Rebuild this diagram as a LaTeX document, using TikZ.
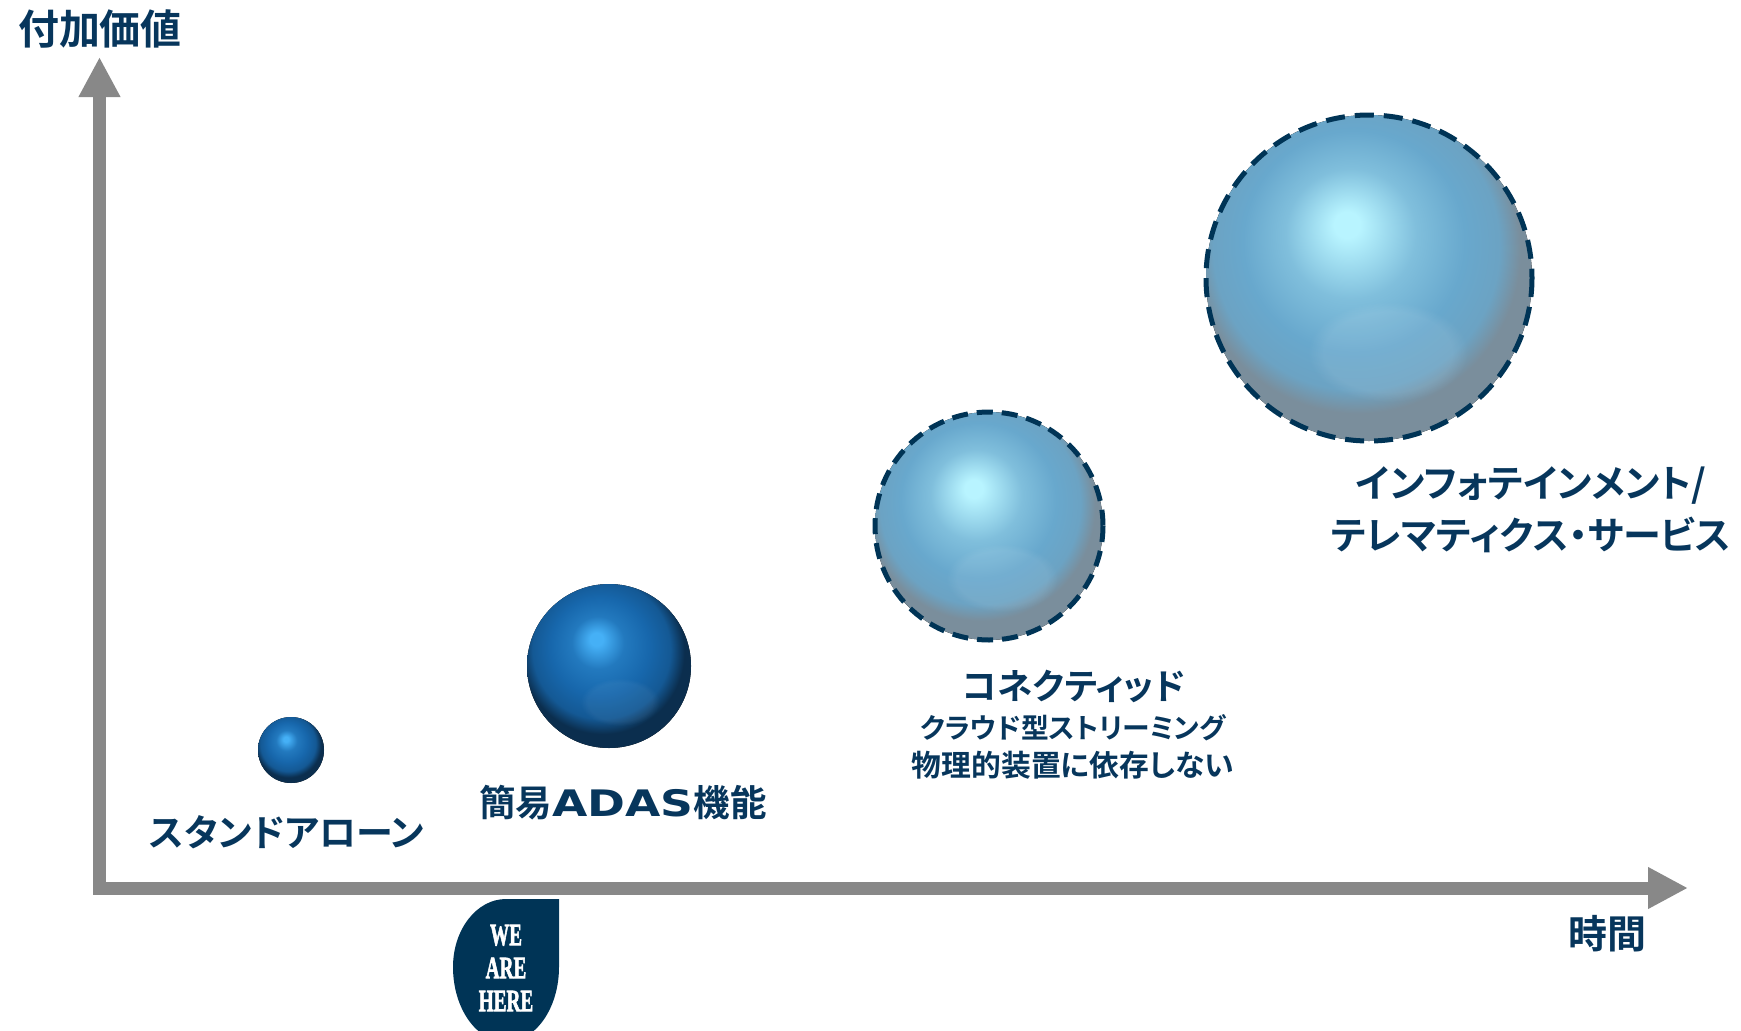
\documentclass[tikz,border=0pt]{standalone}
\usepackage{fontspec}
\usetikzlibrary{arrows.meta,fadings}
\newfontfamily\jp[RawFeature={+palt}]{Noto Sans CJK JP Bold}
\newfontfamily\lat{DejaVu Sans Bold}
\newfontfamily\badge[FakeBold=2.5]{Liberation Serif Bold}

\definecolor{navy}{HTML}{07365C}
\definecolor{axisgray}{HTML}{888888}
\definecolor{markerblue}{HTML}{003456}
% light spheres
\definecolor{lhl}{HTML}{B8F4FF}
\definecolor{lmid}{HTML}{68A8CD}
\definecolor{ledge}{HTML}{7A8E9C}
% dark spheres
\definecolor{dhl}{HTML}{45B0F6}
\definecolor{dmid}{HTML}{1767AC}
\definecolor{dedge}{HTML}{0B2E4E}

\pgfdeclareradialshading{lightball}{\pgfpoint{-3.5bp}{8.5bp}}{%
  color(0bp)=(lhl); color(2bp)=(lhl); color(10bp)=(lmid!70!lhl);
  color(17bp)=(lmid); color(22bp)=(lmid!80!ledge); color(25bp)=(ledge); color(50bp)=(ledge)}
\pgfdeclareradialshading{darkball}{\pgfpoint{-4bp}{8.5bp}}{%
  color(0bp)=(dhl); color(2bp)=(dhl); color(8bp)=(dmid!75!dhl);
  color(15bp)=(dmid); color(21bp)=(dmid!75!dedge); color(25bp)=(dedge); color(50bp)=(dedge)}

\tikzset{
  axis/.style={draw=axisgray, line width=13pt, line join=miter,
    {Triangle[length=40pt,width=39pt]}-{Triangle[length=40pt,width=39pt]}},
  lightsphere/.style={shading=lightball},
  darksphere/.style={shading=darkball},
  glow/.style={white, path fading=circle with fuzzy edge 20 percent},
  ring/.style={draw=markerblue, line width=5pt},
  label/.style={text=navy, inner sep=0pt, align=center, font=\jp},
  badgetext/.style={text=white, inner sep=0pt, align=center, font=\badge}
}

\begin{document}
\begin{tikzpicture}[x=1pt, y=-1pt]
  \useasboundingbox (0,0) rectangle (1741,1031);

  % axes
  \coordinate (ytop) at (99.5,57);
  \coordinate (origin) at (99.5,888);
  \coordinate (xend) at (1688,888);
  \draw[axis] (ytop) -- (origin) -- (xend);

  \node[label, font=\jp\fontsize{41}{44}\selectfont] (ylabel) at (100,29) {付加価値};
  \node[label, font=\jp\fontsize{39}{42}\selectfont] (xlabel) at (1607,934) {時間};

  % spheres
  \fill[darksphere] (291,750) circle[radius=33];
  \fill[darksphere] (609,666) circle[radius=82];
  \fill[lightsphere] (989,526) circle[radius=114];
  \fill[lightsphere] (1369,278) circle[radius=163];

  % soft reflections in the lower half
  \fill[glow, opacity=0.09] (1388,352) ellipse[x radius=80, y radius=50];
  \fill[glow, opacity=0.08] (1002,578) ellipse[x radius=56, y radius=34];
  \fill[glow, opacity=0.05] (620,702) ellipse[x radius=40, y radius=24];

  % dashed outlines
  \draw[ring, dash pattern=on 19pt off 10pt] (1369,278) circle[radius=163];
  \draw[ring, dash pattern=on 16pt off 9pt] (989,526) circle[radius=114];

  % labels
  \node[label, font=\jp\fontsize{37}{40}\selectfont] (standalone) at (287,832) {スタンドアローン};
  \node[label, font=\jp\fontsize{36.5}{40}\selectfont] (adas) at (623,803)
    {簡易{\lat\scalebox{1.25}[1]{ADAS}}機能};
  \node[label, font=\jp\fontsize{35.5}{38}\selectfont] (connected) at (1074,686) {コネクティッド};
  \node[label, font=\jp\fontsize{27.8}{30}\selectfont] (cloud) at (1073,728) {クラウド型ストリーミング};
  \node[label, font=\jp\fontsize{29.8}{32}\selectfont] (device) at (1073,765) {物理的装置に依存しない};
  \node[label, font=\jp\fontsize{38}{52}\selectfont] (info) at (1531,510)
    {インフォテインメント/\\テレマティクス・サービス};

  % position marker
  \begin{scope}
    \clip (0,0) rectangle (1741,1031);
    \fill[markerblue] (559,899) -- (559,967)
      arc[start angle=0, end angle=-90, x radius=53, y radius=-75]
      arc[start angle=-90, end angle=-180, x radius=53, y radius=-75]
      arc[start angle=180, end angle=90, x radius=53, y radius=-68]
      -- cycle;
  \end{scope}
  \node[badgetext, font=\badge\fontsize{31}{33}\selectfont] (here) at (506,968)
    {\scalebox{0.62}[1]{WE}\\\scalebox{0.62}[1]{ARE}\\\scalebox{0.62}[1]{HERE}};
\end{tikzpicture}
\end{document}
